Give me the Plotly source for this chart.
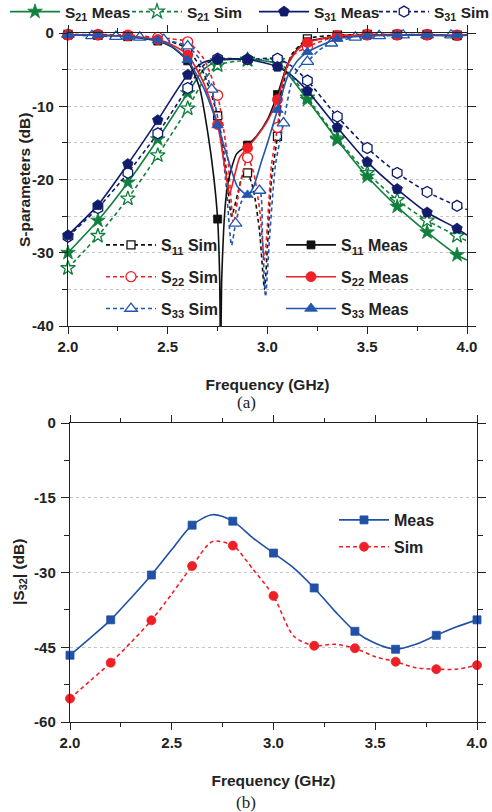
import plotly.graph_objects as go

# ---------------- (a) S-parameters of the power divider ----------------
# transmission curves (GHz, dB)
F_TRANS = [2.0, 2.15, 2.3, 2.45, 2.6, 2.68, 2.75, 2.9, 3.05, 3.12, 3.2, 3.35, 3.5, 3.65, 3.8, 3.95, 4.0]
S21_MEAS = [-30.0, -25.6, -20.4, -14.5, -8.2, -5.0, -3.8, -3.6, -4.2, -6.2, -9.1, -14.6, -19.6, -23.7, -27.2, -30.3, -31.0]
S21_SIM = [-32.1, -27.7, -22.6, -16.7, -10.3, -6.5, -4.4, -3.7, -3.8, -5.8, -8.8, -14.4, -19.1, -22.8, -25.6, -27.7, -28.4]
S31_MEAS = [-27.6, -23.5, -17.9, -11.9, -5.7, -4.0, -3.6, -3.6, -4.6, -5.8, -7.9, -12.9, -17.6, -21.3, -24.5, -26.7, -27.6]
S31_SIM = [-27.8, -23.9, -19.1, -13.7, -7.5, -4.4, -3.5, -3.6, -3.5, -4.5, -6.5, -11.4, -15.7, -19.1, -21.7, -23.6, -24.1]

# reflection curves (GHz, dB)
F_S11_MEAS = [2.0, 2.15, 2.3, 2.45, 2.52, 2.6, 2.66, 2.7, 2.73, 2.75, 2.76, 2.765, 2.77, 2.78, 2.79,
              2.805, 2.845, 2.9, 2.95, 3.0, 3.05, 3.1, 3.15, 3.2, 3.35, 3.5, 3.65, 3.8, 3.95, 4.0]
S11_MEAS = [-0.3, -0.3, -0.5, -1.1, -1.9, -3.8, -7.5, -13.5, -19.5, -25.4, -33.0, -45.0, -34.0, -27.0, -23.0,
            -20.0, -16.5, -15.3, -13.9, -11.8, -8.4, -4.3, -2.2, -1.2, -0.5, -0.3, -0.3, -0.3, -0.4, -0.3]

F_S22_MEAS = [2.0, 2.15, 2.3, 2.45, 2.52, 2.6, 2.68, 2.75, 2.79, 2.81, 2.83, 2.86, 2.9, 2.95, 3.0,
              3.05, 3.1, 3.15, 3.2, 3.35, 3.5, 3.65, 3.8, 3.95, 4.0]
S22_MEAS = [-0.3, -0.3, -0.4, -0.9, -1.6, -3.0, -6.8, -12.5, -19.0, -22.0, -20.0, -17.0, -15.7, -14.0, -12.0,
            -9.1, -4.4, -2.3, -1.3, -0.4, -0.3, -0.3, -0.3, -0.3, -0.3]

F_S33_MEAS = [2.0, 2.15, 2.3, 2.45, 2.52, 2.6, 2.68, 2.75, 2.8, 2.85, 2.9, 2.93, 2.97, 3.0,
              3.05, 3.1, 3.15, 3.2, 3.35, 3.5, 3.65, 3.8, 3.95, 4.0]
S33_MEAS = [-0.3, -0.3, -0.5, -1.0, -1.8, -3.7, -7.5, -12.6, -17.0, -21.0, -22.1, -21.0, -17.5, -15.0,
            -10.5, -6.0, -3.8, -2.6, -0.8, -0.4, -0.3, -0.3, -0.3, -0.3]

F_S11_SIM = [2.0, 2.15, 2.3, 2.45, 2.52, 2.6, 2.68, 2.75, 2.79, 2.82, 2.85, 2.875, 2.9, 2.93, 2.96, 2.985,
             3.0, 3.02, 3.05, 3.08, 3.12, 3.2, 3.35, 3.5, 3.65, 3.8, 3.95, 4.0]
S11_SIM = [-0.2, -0.3, -0.4, -0.8, -1.2, -2.2, -5.5, -11.3, -18.0, -25.0, -22.0, -19.5, -19.1, -21.5, -27.0, -35.0,
           -29.0, -20.0, -14.1, -7.0, -3.0, -0.8, -0.3, -0.2, -0.2, -0.2, -0.3, -0.2]

F_S22_SIM = [2.0, 2.15, 2.3, 2.45, 2.52, 2.6, 2.68, 2.75, 2.8, 2.83, 2.86, 2.9, 2.93, 2.96, 2.985,
             3.0, 3.02, 3.05, 3.08, 3.12, 3.2, 3.35, 3.5, 3.65, 3.8, 3.95, 4.0]
S22_SIM = [-0.2, -0.2, -0.3, -0.6, -0.8, -1.2, -3.5, -8.5, -17.0, -26.0, -21.0, -17.0, -19.0, -24.0, -31.0,
           -26.0, -18.0, -12.9, -6.0, -3.2, -1.9, -0.4, -0.2, -0.2, -0.2, -0.3, -0.2]

F_S33_SIM = [2.0, 2.12, 2.24, 2.36, 2.48, 2.6, 2.66, 2.72, 2.76, 2.79, 2.82, 2.84, 2.87, 2.9, 2.96, 2.975,
             2.99, 3.01, 3.04, 3.08, 3.12, 3.16, 3.2, 3.26, 3.32, 3.44, 3.56, 3.68, 3.8, 3.92, 4.0]
S33_SIM = [-0.2, -0.4, -0.5, -0.6, -0.9, -1.8, -3.6, -7.7, -13.0, -20.0, -29.0, -26.0, -23.0, -22.0, -21.5, -28.0,
           -36.0, -28.0, -18.0, -12.3, -6.8, -4.6, -3.9, -2.3, -1.4, -0.6, -0.4, -0.3, -0.3, -0.3, -0.3]

# frequencies that carry a symbol
MARK_F = [2.0, 2.15, 2.3, 2.45, 2.6, 2.75, 2.9, 3.05, 3.2, 3.35, 3.5, 3.65, 3.8, 3.95]
MARK_F_S33_SIM = [2.0, 2.12, 2.24, 2.36, 2.48, 2.6, 2.72, 2.84, 2.96, 3.08, 3.2, 3.32, 3.44, 3.56, 3.68, 3.8, 3.92]

# ---------------- (b) isolation |S32| ----------------
F_S32 = [2.0, 2.1, 2.2, 2.3, 2.4, 2.5, 2.6, 2.7, 2.8, 2.9, 3.0, 3.1, 3.2, 3.3, 3.4, 3.5, 3.6, 3.7, 3.8, 3.9, 4.0]
S32_MEAS = [-46.6, -43.1, -39.5, -35.1, -30.5, -25.4, -20.5, -18.4, -19.7, -23.1, -26.1, -29.1, -33.1, -37.7,
            -41.8, -44.2, -45.4, -44.4, -42.6, -40.9, -39.5]
S32_SIM = [-55.3, -51.7, -48.1, -44.0, -39.6, -34.3, -28.7, -23.8, -24.6, -29.4, -34.7, -42.8, -44.7, -44.4,
           -45.2, -46.9, -47.9, -49.1, -49.4, -49.4, -48.6]
MARK_F_S32 = [2.0, 2.2, 2.4, 2.6, 2.8, 3.0, 3.2, 3.4, 3.6, 3.8, 4.0]

# tick labels
X_TICKS = [2.0, 2.5, 3.0, 3.5, 4.0]
X_TEXT = ["2.0", "2.5", "3.0", "3.5", "4.0"]
Y_TICKS_A = [0, -10, -20, -30, -40]
Y_TEXT_A = ["0", "-10", "-20", "-30", "-40"]
Y_TICKS_B = [0, -15, -30, -45, -60]
Y_TEXT_B = ["0", "-15", "-30", "-45", "-60"]

GREEN = "#10803c"
NAVY = "#101c6a"
BLACK = "#111111"
RED = "#ee1f26"
BLUE = "#2356b0"
BLUE_B = "#2051a6"
INK = "#222222"
FONT = "Liberation Sans, Arial, sans-serif"
SERIF = "Liberation Serif, Times New Roman, serif"
SHORT_DASH = "4px,3px"
W, H = 492, 812

fig = go.Figure()


def pick(xs, ys, keys):
    table = {round(x, 3): y for x, y in zip(xs, ys)}
    kx = [k for k in keys if round(k, 3) in table]
    return kx, [table[round(k, 3)] for k in kx]


def marker_style(color, symbol, size, filled):
    if filled:
        return dict(symbol=symbol, size=size, color=color, line=dict(color=color, width=0.8))
    return dict(symbol=symbol, size=size, color="white", line=dict(color=color, width=1.3))


def add_curve(xs, ys, marks, color, dash, symbol, size, filled, xa="x", ya="y", smooth=0.6):
    line = dict(color=color, width=1.6, dash=dash, shape="spline", smoothing=smooth)
    fig.add_trace(go.Scatter(x=xs, y=ys, mode="lines", line=line, showlegend=False,
                             hoverinfo="skip", xaxis=xa, yaxis=ya))
    kx, ky = pick(xs, ys, marks)
    fig.add_trace(go.Scatter(x=kx, y=ky, mode="markers", marker=marker_style(color, symbol, size, filled),
                             showlegend=False, cliponaxis=False, xaxis=xa, yaxis=ya))


def add_key(name, color, dash, symbol, size, filled, legend, group, xa="x", ya="y"):
    fig.add_trace(go.Scatter(x=[None], y=[None], mode="lines+markers", name=name,
                             line=dict(color=color, width=1.6, dash=dash),
                             marker=marker_style(color, symbol, size, filled),
                             legend=legend, legendgroup=group, xaxis=xa, yaxis=ya))


# panel (a) curves
add_curve(F_TRANS, S21_SIM, MARK_F, GREEN, SHORT_DASH, "star", 11, False)
add_curve(F_TRANS, S21_MEAS, MARK_F, GREEN, "solid", "star", 11, True)
add_curve(F_TRANS, S31_SIM, MARK_F, NAVY, SHORT_DASH, "hexagon", 11, False)
add_curve(F_TRANS, S31_MEAS, MARK_F, NAVY, "solid", "pentagon", 11, True)
add_curve(F_S11_SIM, S11_SIM, MARK_F, BLACK, SHORT_DASH, "square", 8, False)
add_curve(F_S22_SIM, S22_SIM, MARK_F, RED, SHORT_DASH, "circle", 10, False)
add_curve(F_S33_SIM, S33_SIM, MARK_F_S33_SIM, BLUE, SHORT_DASH, "triangle-up", 11, False)
add_curve(F_S11_MEAS, S11_MEAS, MARK_F, BLACK, "solid", "square", 8, True)
add_curve(F_S22_MEAS, S22_MEAS, MARK_F, RED, "solid", "circle", 10, True)
add_curve(F_S33_MEAS, S33_MEAS, MARK_F, BLUE, "solid", "triangle-up", 10, True)

# panel (b) curves
add_curve(F_S32, S32_MEAS, MARK_F_S32, BLUE_B, "solid", "square", 8, True, "x2", "y2", 0.8)
add_curve(F_S32, S32_SIM, MARK_F_S32, RED, SHORT_DASH, "circle", 9, True, "x2", "y2", 0.8)

# legend keys: one legend box per key along the top, two columns inside (a), one box in (b)
add_key("S<sub>21</sub> Meas", GREEN, "solid", "star", 11, True, "legend", "a1")
add_key("S<sub>21</sub> Sim", GREEN, SHORT_DASH, "star", 11, False, "legend5", "a2")
add_key("S<sub>31</sub> Meas", NAVY, "solid", "pentagon", 11, True, "legend6", "a3")
add_key("S<sub>31</sub> Sim", NAVY, SHORT_DASH, "hexagon", 11, False, "legend7", "a4")
add_key("S<sub>11</sub> Sim", BLACK, SHORT_DASH, "square", 8, False, "legend2", "b1")
add_key("S<sub>22</sub> Sim", RED, SHORT_DASH, "circle", 10, False, "legend2", "b2")
add_key("S<sub>33</sub> Sim", BLUE, SHORT_DASH, "triangle-up", 11, False, "legend2", "b3")
add_key("S<sub>11</sub> Meas", BLACK, "solid", "square", 8, True, "legend3", "c1")
add_key("S<sub>22</sub> Meas", RED, "solid", "circle", 10, True, "legend3", "c2")
add_key("S<sub>33</sub> Meas", BLUE, "solid", "triangle-up", 11, True, "legend3", "c3")
add_key("Meas", BLUE_B, "solid", "square", 8, True, "legend4", "d1", "x2", "y2")
add_key("Sim", RED, SHORT_DASH, "circle", 9, True, "legend4", "d2", "x2", "y2")

tick_font = dict(family=FONT, size=15, color=INK, weight="bold")
title_font = dict(family=FONT, size=15.5, color=INK, weight="bold")
legend_font = dict(family=FONT, size=16, color=INK, weight="bold")
top_key_font = dict(family=FONT, size=15.5, color=INK, weight="bold")
AX = dict(showline=True, linecolor=INK, linewidth=1.4, mirror="ticks", ticks="outside",
          ticklen=7, tickwidth=1.2, tickcolor=INK, tickfont=tick_font, zeroline=False, automargin=False)
GRID = dict(gridcolor="#c4c4c4", gridwidth=1, griddash="dot")

minor_x = dict(dtick=0.25, tick0=2.0, ticklen=4, tickwidth=1.2, tickcolor=INK, ticks="outside", showgrid=False)


def px_x(p):
    return p / W


def px_y(p):
    return 1 - p / H


def key_box(x_px, y_px, gap=0, anchor="top", font=legend_font):
    return dict(x=px_x(x_px), xanchor="left", y=px_y(y_px), yanchor=anchor, font=font,
                bgcolor="rgba(0,0,0,0)", tracegroupgap=gap, itemwidth=50)


def side_title(text, x_px, y_px):
    return dict(text=text, x=px_x(x_px), y=px_y(y_px), xref="paper", yref="paper", showarrow=False,
                textangle=-90, xanchor="center", yanchor="middle", font=title_font)


def caption(text, y_px):
    return dict(text=text, x=0.5, y=px_y(y_px), xref="paper", yref="paper", showarrow=False,
                xanchor="center", yanchor="middle", font=dict(family=SERIF, size=17, color=INK))


fig.update_layout(
    width=W, height=H, margin=dict(l=0, r=0, t=0, b=0, autoexpand=False),
    paper_bgcolor="white", plot_bgcolor="white", font=dict(family=FONT, color=INK),
    xaxis=dict(AX, domain=[px_x(68), px_x(467)], range=[2, 4], anchor="y", tickvals=X_TICKS, ticktext=X_TEXT,
               minor=minor_x, showgrid=False,
               title=dict(text="Frequency (GHz)", font=title_font, standoff=24)),
    yaxis=dict(AX, **GRID, domain=[px_y(326), px_y(33)], range=[-40, 0], anchor="x",
               tickvals=Y_TICKS_A, ticktext=Y_TEXT_A, ticklabelstandoff=2, ticklen=8,
               minor=dict(dtick=5, tick0=0, ticklen=5, tickwidth=1.2, tickcolor=INK, ticks="outside",
                          showgrid=True, **GRID),
               showgrid=True),
    xaxis2=dict(AX, domain=[px_x(70), px_x(477)], range=[2, 4], anchor="y2", tickvals=X_TICKS, ticktext=X_TEXT,
                minor=minor_x, showgrid=False,
                title=dict(text="Frequency (GHz)", font=title_font, standoff=24)),
    yaxis2=dict(AX, **GRID, domain=[px_y(722), px_y(423)], range=[-60, 0], anchor="x2",
                tickvals=Y_TICKS_B, ticktext=Y_TEXT_B, ticklabelstandoff=2, ticklen=8,
                minor=dict(dtick=7.5, tick0=0, ticklen=5, tickwidth=1.2, tickcolor=INK, ticks="outside",
                           showgrid=False),
                showgrid=True),
    legend=key_box(5, 12, anchor="middle", font=top_key_font),
    legend5=key_box(127, 12, anchor="middle", font=top_key_font),
    legend6=key_box(254, 12, anchor="middle", font=top_key_font),
    legend7=key_box(374, 12, anchor="middle", font=top_key_font),
    legend2=key_box(101, 228, gap=8),
    legend3=key_box(281, 228, gap=8),
    legend4=key_box(334, 503, gap=3),
    annotations=[
        side_title("S-parameters (dB)", 24, 180),
        side_title("|S<sub>32</sub>| (dB)", 19, 572),
        caption("(a)", 403),
        caption("(b)", 802),
    ],
)

fig.write_html("out.html")
